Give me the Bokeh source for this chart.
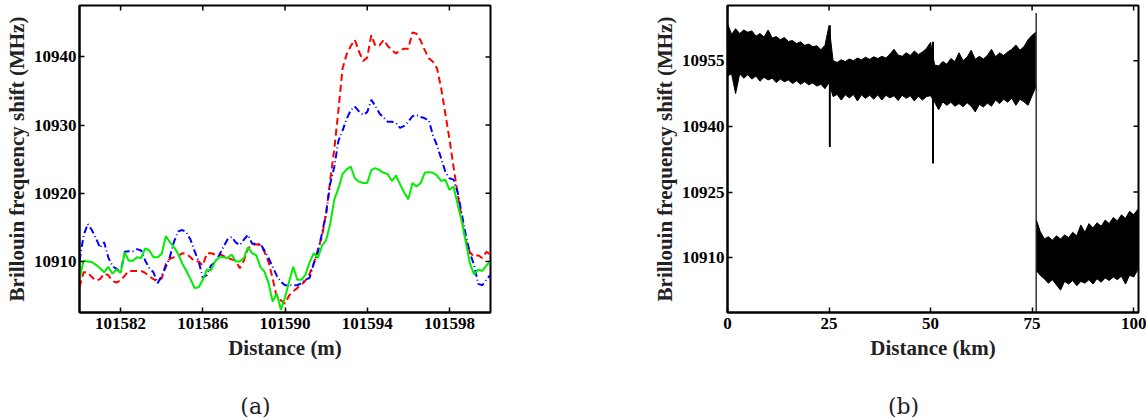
import math
from bokeh.plotting import figure
from bokeh.layouts import row, column
from bokeh.models import Range1d, FixedTicker, Label, BasicTickFormatter
from bokeh.embed import file_html
from bokeh.resources import INLINE

# ---------------- panel (a) data ----------------
dist_m = [101580.0, 101580.2, 101580.4, 101580.6, 101580.8, 101581.0, 101581.2, 101581.4, 101581.6, 101581.8,
          101582.0, 101582.2, 101582.4, 101582.6, 101582.8, 101583.0, 101583.2, 101583.4, 101583.6, 101583.8,
          101584.0, 101584.2, 101584.4, 101584.6, 101584.8, 101585.0, 101585.2, 101585.4, 101585.6, 101585.8,
          101586.0, 101586.2, 101586.4, 101586.6, 101586.8, 101587.0, 101587.2, 101587.4, 101587.6, 101587.8,
          101588.0, 101588.2, 101588.4, 101588.6, 101588.8, 101589.0, 101589.2, 101589.4, 101589.6, 101589.8,
          101590.0, 101590.2, 101590.4, 101590.6, 101590.8, 101591.0, 101591.2, 101591.4, 101591.6, 101591.8,
          101592.0, 101592.2, 101592.4, 101592.6, 101592.8, 101593.0, 101593.2, 101593.4, 101593.6, 101593.8,
          101594.0, 101594.2, 101594.4, 101594.6, 101594.8, 101595.0, 101595.2, 101595.4, 101595.6, 101595.8,
          101596.0, 101596.2, 101596.4, 101596.6, 101596.8, 101597.0, 101597.2, 101597.4, 101597.6, 101597.8,
          101598.0, 101598.2, 101598.4, 101598.6, 101598.8, 101599.0, 101599.2, 101599.4, 101599.6, 101599.8,
          101600.0]

bfs_red = [10906.2, 10908.4, 10908.4, 10907.7, 10907.2, 10907.4, 10908.2, 10908.0, 10907.1, 10906.9,
           10907.2, 10907.9, 10908.6, 10908.6, 10908.6, 10908.6, 10908.3, 10907.8, 10907.4, 10907.1,
           10907.5, 10909.6, 10910.4, 10910.6, 10910.8, 10911.2, 10911.1, 10910.6, 10910.0, 10910.0,
           10909.4, 10911.2, 10911.2, 10911.0, 10911.1, 10910.8, 10910.5, 10910.3, 10910.1, 10909.0,
           10910.1, 10911.9, 10912.4, 10912.5, 10912.4, 10911.4, 10909.9, 10907.5, 10904.7, 10904.3,
           10903.8, 10905.0, 10905.6, 10906.1, 10906.6, 10907.2, 10908.2, 10909.7, 10911.7, 10913.7,
           10917.0, 10921.9, 10926.5, 10932.2, 10938.3, 10940.4, 10941.6, 10942.5, 10940.8, 10939.4,
           10939.9, 10943.2, 10941.6, 10941.7, 10942.5, 10941.6, 10941.0, 10940.5, 10941.0, 10941.2,
           10941.2, 10943.6, 10943.4, 10942.4, 10941.0, 10939.8, 10939.3, 10938.3, 10935.4, 10931.7,
           10928.0, 10923.9, 10919.9, 10916.3, 10913.1, 10911.3, 10910.7, 10910.9, 10910.5, 10911.4,
           10911.0]

bfs_blue = [10910.1, 10913.8, 10915.5, 10914.6, 10913.4, 10912.0, 10912.8, 10910.6, 10909.3, 10908.9,
            10908.4, 10911.4, 10911.5, 10911.5, 10911.8, 10911.6, 10910.1, 10909.0, 10908.4, 10906.8,
            10907.9, 10909.2, 10910.7, 10912.9, 10914.4, 10914.6, 10914.3, 10913.2, 10911.5, 10910.0,
            10907.6, 10908.0, 10909.4, 10909.9, 10910.9, 10912.1, 10913.2, 10913.6, 10912.8, 10912.4,
            10913.2, 10913.9, 10912.6, 10912.6, 10912.6, 10911.6, 10910.5, 10909.2, 10907.9, 10907.0,
            10906.5, 10906.5, 10906.5, 10906.5, 10906.8, 10907.3, 10907.6, 10909.7, 10911.4, 10914.1,
            10917.0, 10921.4, 10923.9, 10927.7, 10929.2, 10930.9, 10932.2, 10932.7, 10932.0, 10931.5,
            10931.9, 10933.7, 10932.8, 10931.7, 10931.1, 10930.5, 10930.5, 10930.3, 10929.6, 10929.9,
            10930.5, 10931.3, 10931.5, 10931.2, 10931.0, 10930.7, 10928.5, 10927.0, 10925.1, 10923.2,
            10922.2, 10922.0, 10920.2, 10917.0, 10913.8, 10911.2, 10909.5, 10906.7, 10906.5, 10907.3,
            10908.0]

bfs_green = [10907.5, 10910.1, 10910.0, 10909.9, 10909.5, 10909.0, 10908.4, 10909.2, 10908.2, 10908.8,
             10908.3, 10911.3, 10910.1, 10910.1, 10910.6, 10910.5, 10911.9, 10911.6, 10910.6, 10910.6,
             10911.1, 10913.7, 10912.8, 10912.1, 10911.1, 10909.7, 10908.6, 10907.4, 10906.1, 10906.2,
             10907.3, 10908.8, 10908.7, 10910.0, 10910.6, 10910.6, 10910.5, 10911.0, 10910.0, 10910.0,
             10910.5, 10912.1, 10911.2, 10910.9, 10909.2, 10908.5, 10906.8, 10904.1, 10905.3, 10902.9,
             10904.7, 10907.0, 10909.2, 10907.3, 10907.3, 10908.1, 10909.9, 10911.2, 10910.5, 10912.3,
             10913.1, 10915.5, 10919.1, 10920.7, 10922.8, 10923.5, 10923.9, 10922.2, 10921.7, 10921.5,
             10921.5, 10923.4, 10923.7, 10923.4, 10923.0, 10922.8, 10921.8, 10922.6, 10921.3, 10920.1,
             10919.1, 10921.5, 10921.0, 10921.5, 10923.0, 10923.1, 10923.0, 10922.6, 10921.8, 10922.0,
             10920.5, 10921.0, 10918.4, 10915.9, 10912.8, 10909.7, 10908.1, 10908.8, 10908.6, 10909.4,
             10910.0]

a_xticks = [101582, 101586, 101590, 101594, 101598]
a_yticks = [10910, 10920, 10930, 10940]

# ---------------- panel (b) data ----------------
# noisy trace envelope (upper / lower edge of the band)
km_a = [0, 1, 2, 3, 4, 5, 6, 7, 8, 9, 10, 11, 12, 13, 14, 15, 16, 17, 18, 19,
        20, 21, 22, 23, 24, 25, 26, 27, 28, 29, 30, 31, 32, 33, 34, 35, 36, 37, 38, 39,
        40, 41, 42, 43, 44, 45, 46, 47, 48, 49, 50, 51, 52, 53, 54, 55, 56, 57, 58, 59,
        60, 61, 62, 63, 64, 65, 66, 67, 68, 69, 70, 71, 72, 73, 74, 75, 75.9]
hi_a = [10963.5, 10961.0, 10962.3, 10961.2, 10962.0, 10961.5, 10961.8, 10960.6, 10961.2, 10960.4,
        10962.0, 10960.2, 10960.5, 10959.8, 10960.3, 10959.4, 10959.6, 10958.9, 10959.3, 10958.5,
        10958.8, 10958.2, 10958.4, 10957.5, 10958.5, 10963.0, 10955.0, 10954.6, 10955.2, 10954.8,
        10955.4, 10955.0, 10955.6, 10955.2, 10955.8, 10955.3, 10955.9, 10955.5, 10956.0, 10955.6,
        10956.5, 10957.6, 10956.3, 10956.0, 10956.8, 10956.2, 10957.2, 10956.4, 10957.0, 10957.8,
        10959.2, 10954.0, 10953.8, 10954.8, 10954.2, 10955.5, 10954.8, 10956.8, 10955.0, 10955.8,
        10957.4, 10955.3, 10956.0, 10955.4, 10956.2, 10957.6, 10955.9, 10956.8, 10956.2, 10957.0,
        10957.6, 10958.6, 10957.4, 10958.2, 10959.8, 10960.8, 10961.5]
lo_a = [10951.5, 10952.0, 10947.5, 10952.0, 10951.0, 10951.8, 10950.8, 10951.5, 10950.3, 10951.2,
        10950.6, 10951.0, 10950.0, 10950.8, 10950.2, 10950.6, 10949.8, 10950.4, 10949.6, 10950.2,
        10949.5, 10949.9, 10949.2, 10949.6, 10948.6, 10950.0, 10946.8, 10947.3, 10946.0, 10947.2,
        10946.5, 10947.3, 10945.8, 10947.2, 10946.4, 10947.1, 10946.2, 10947.2, 10946.0, 10947.1,
        10946.5, 10947.0, 10945.9, 10947.1, 10946.4, 10947.0, 10945.8, 10946.9, 10946.0, 10946.8,
        10947.0, 10945.5, 10943.8, 10945.6, 10944.8, 10945.5, 10944.6, 10945.2, 10944.5, 10945.4,
        10944.6, 10943.3, 10945.0, 10944.4, 10945.3, 10944.6, 10946.0, 10945.2, 10946.2, 10945.5,
        10946.4, 10944.8, 10946.2, 10945.6, 10944.8, 10947.0, 10949.0]

km_b = [76.1, 77, 78, 79, 80, 81, 82, 83, 84, 85, 86, 87, 88, 89, 90,
        91, 92, 93, 94, 95, 96, 97, 98, 99, 100, 101, 101.2]
hi_b = [10918.5, 10916.0, 10914.3, 10914.8, 10914.0, 10915.0, 10914.3, 10915.2, 10914.6, 10915.8,
        10915.0, 10917.5, 10915.8, 10917.8, 10916.8, 10918.0, 10917.2, 10918.6, 10917.8, 10919.2,
        10918.4, 10919.8, 10919.0, 10920.6, 10919.8, 10921.0, 10920.5]
lo_b = [10907.0, 10906.0, 10905.2, 10904.2, 10905.0, 10903.8, 10902.6, 10904.6, 10904.0, 10904.8,
        10903.6, 10904.6, 10904.2, 10905.0, 10904.0, 10905.2, 10904.4, 10905.4, 10904.8, 10905.6,
        10905.0, 10905.8, 10904.0, 10906.0, 10905.6, 10907.2, 10907.5]

# isolated spikes of the trace (position, top, bottom)
spike_km = [25.2, 50.6, 76.0]
spike_top = [10963.1, 10959.3, 10965.9]
spike_bot = [10935.3, 10931.5, 10896.0]
spike_w = [2.0, 2.0, 1.2]

b_xticks = [0, 25, 50, 75, 100]
b_yticks = [10910, 10925, 10940, 10955]

captions = ["(a)", "(b)"]

FONT = "Liberation Serif"


def style(p, xticks, yticks, xlabel, ylabel):
    p.grid.visible = False
    p.outline_line_color = "black"
    p.outline_line_width = 2
    p.background_fill_color = "white"
    p.border_fill_color = "white"
    for ax in (p.xaxis[0], p.yaxis[0]):
        ax.major_tick_in = 5
        ax.major_tick_out = 0
        ax.minor_tick_in = 0
        ax.minor_tick_out = 0
        ax.axis_line_width = 2
        ax.major_tick_line_width = 1.5
        ax.major_label_text_font = FONT
        ax.major_label_text_font_style = "bold"
        ax.major_label_text_font_size = "17px"
        ax.major_label_text_color = "black"
        ax.axis_label_text_font = FONT
        ax.axis_label_text_font_style = "bold"
        ax.axis_label_text_font_size = "21px"
        ax.axis_label_text_color = "#222222"
        ax.formatter = BasicTickFormatter(use_scientific=False)
    p.xaxis[0].ticker = FixedTicker(ticks=xticks)
    p.yaxis[0].ticker = FixedTicker(ticks=yticks)
    p.xaxis[0].axis_label = xlabel
    p.yaxis[0].axis_label = ylabel
    p.xaxis[0].major_label_standoff = 5
    p.xaxis[0].axis_label_standoff = 4
    p.yaxis[0].major_label_standoff = 3
    p.yaxis[0].axis_label_standoff = 2
    # mirrored inward tick marks on the top and right frame edges (clipped to the frame)
    p.scatter(x=xticks, y=[p.y_range.end] * len(xticks), marker="dash", angle=math.pi / 2,
              size=10, line_color="black", line_width=1.5)
    p.scatter(x=[p.x_range.end] * len(yticks), y=yticks, marker="dash",
              size=10, line_color="black", line_width=1.5)


def caption(width, text, cx):
    c = figure(width=width, height=25, x_range=Range1d(0, 1), y_range=Range1d(0, 1),
               output_backend="svg", toolbar_location=None, min_border=0,
               x_axis_location=None, y_axis_location=None)
    c.grid.visible = False
    c.outline_line_color = None
    c.add_layout(Label(x=cx, y=14, x_units="screen", y_units="screen", text=text,
                       text_font="DejaVu Serif", text_font_size="22px", text_align="center",
                       text_baseline="middle", text_color="#222222"))
    return c


H = 395
p1 = figure(width=560, height=H, x_range=Range1d(101580, 101600), y_range=Range1d(10902.5, 10947.55),
            output_backend="svg", toolbar_location=None,
            min_border_left=79, min_border_right=70, min_border_top=5, min_border_bottom=83)
p1.line(dist_m, bfs_red, line_color="#ff0000", line_width=2, line_dash="7 4")
p1.line(dist_m, bfs_blue, line_color="#0000ff", line_width=2, line_dash="7 3 1 3")
p1.line(dist_m, bfs_green, line_color="#00ee00", line_width=2)
style(p1, a_xticks, a_yticks, "Distance (m)", "Brillouin frequency shift (MHz)")

p2 = figure(width=586, height=H, x_range=Range1d(0, 101.2), y_range=Range1d(10897.5, 10967.6),
            output_backend="svg", toolbar_location=None,
            min_border_left=167, min_border_right=8, min_border_top=5, min_border_bottom=83)
p2.varea(x=km_a, y1=lo_a, y2=hi_a, fill_color="black")
p2.line(km_a, hi_a, line_color="black", line_width=1)
p2.line(km_a, lo_a, line_color="black", line_width=1)
p2.varea(x=km_b, y1=lo_b, y2=hi_b, fill_color="black")
p2.line(km_b, hi_b, line_color="black", line_width=1)
p2.line(km_b, lo_b, line_color="black", line_width=1)
p2.segment(x0=spike_km, y0=spike_bot, x1=spike_km, y1=spike_top, line_color="black", line_width=spike_w)
style(p2, b_xticks, b_yticks, "Distance (km)", "Brillouin frequency shift (MHz)")

c1 = caption(560, captions[0], 255)
c2 = caption(586, captions[1], 903 - 560)

layout = column(row(p1, p2), row(c1, c2))
open("out.html", "w").write(file_html(layout, INLINE))
